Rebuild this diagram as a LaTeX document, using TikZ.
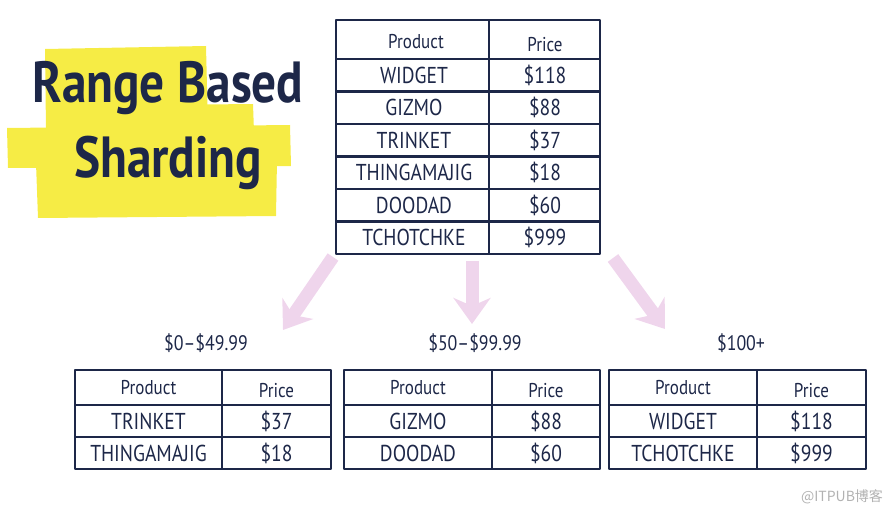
\documentclass[tikz,border=0pt]{standalone}
\usepackage{fontspec}
\setmainfont{PT Sans}[FakeStretch=0.85]
\newfontfamily\cjk{Noto Sans CJK SC}
\usetikzlibrary{arrows.meta}

\definecolor{ink}{HTML}{1D2748}
\definecolor{marker}{HTML}{F6EC45}
\definecolor{blush}{HTML}{EFD5EC}

\tikzset{
  tblline/.style={draw=ink, line width=2.6pt, line join=round},
  cell/.style={text=ink, font=\fontsize{23}{26}\selectfont, inner sep=0pt},
  hdr/.style={text=ink, font=\fontsize{20}{23}\selectfont, inner sep=0pt},
  rangelbl/.style={text=ink, font=\fontsize{21}{24}\selectfont, inner sep=0pt},
  titletxt/.style={text=ink, font=\fontsize{58}{62}\selectfont\bfseries, inner sep=0pt},
  shardarrow/.style={draw=blush, line width=13pt, -{Stealth[width=37pt,length=26pt,inset=8pt]}},
}

\begin{document}
\begin{tikzpicture}[x=1pt, y=-1pt]
  \useasboundingbox (0,0) rectangle (889,513);

  % highlighter behind the title
  \fill[marker] (45,49) -- (206,46) -- (208,128) -- (46,130) -- cycle;
  \fill[marker] (58,106) -- (253,104) -- (254,132) -- (60,133) -- cycle;
  \fill[marker] (7,128) -- (290,125) -- (291,166) -- (8,168) -- cycle;
  \fill[marker] (36,163) -- (277,160) -- (276,216) -- (38,218) -- cycle;
  \node[titletxt] (ttl1) at (168,88) {Range Based};
  \node[titletxt] (ttl2) at (168,163) {Sharding};

  % full table
  \draw[tblline] (336,20) rectangle (600,254);
  \draw[tblline] (489,20) -- (489,254);
  \foreach \y in {59,91.5,124,156.5,189,221.5}
    \draw[tblline] (336,\y) -- (600,\y);
  \node[hdr] (cathp) at (416,42) {Product};
  \node[hdr] (cathq) at (545,45) {Price};
  \foreach \item/\cost [count=\i] in {WIDGET/118,GIZMO/88,TRINKET/37,THINGAMAJIG/18,DOODAD/60,TCHOTCHKE/999}{
    \node[cell] (catp\i) at (414,{59+32.5*\i-16.25}) {\item};
    \node[cell] (catq\i) at (545,{59+32.5*\i-16.25}) {\$\cost};
  }

  % arrows down to the shards
  \coordinate (lowtail) at (333,257);
  \coordinate (lowtip) at (283,330);
  \coordinate (midtail) at (472,261);
  \coordinate (midtip) at (472,324);
  \coordinate (hightail) at (613,258);
  \coordinate (hightip) at (665,329);
  \draw[shardarrow] (lowtail) -- (lowtip);
  \draw[shardarrow] (midtail) -- (midtip);
  \draw[shardarrow] (hightail) -- (hightip);

  \node[rangelbl] (lowlbl) at (206,343) {\$0--\$49.99};
  \node[rangelbl] (midlbl) at (475,343) {\$50--\$99.99};
  \node[rangelbl] (highlbl) at (741,343) {\$100+};

  % the three shards
  \foreach \xa/\xm/\xb/\pa/\ca/\pb/\cb [count=\k] in
      {75/222/331/TRINKET/37/THINGAMAJIG/18,
       344/492/600/GIZMO/88/DOODAD/60,
       609/757/866/WIDGET/118/TCHOTCHKE/999}{
    \draw[tblline] (\xa,370) rectangle (\xb,469);
    \draw[tblline] (\xm,370) -- (\xm,469);
    \draw[tblline] (\xa,405) -- (\xb,405);
    \draw[tblline] (\xa,437) -- (\xb,437);
    \node[hdr] (sh\k hp) at ({(\xa+\xm)/2},388) {Product};
    \node[hdr] (sh\k hq) at ({(\xm+\xb)/2},391) {Price};
    \node[cell] (sh\k p1) at ({(\xa+\xm)/2},421) {\pa};
    \node[cell] (sh\k q1) at ({(\xm+\xb)/2},421) {\$\ca};
    \node[cell] (sh\k p2) at ({(\xa+\xm)/2},453) {\pb};
    \node[cell] (sh\k q2) at ({(\xm+\xb)/2},453) {\$\cb};
  }

  \node[text=black!30, font=\cjk\fontsize{14}{16}\selectfont, inner sep=0pt] (wm) at (842,497) {@ITPUB博客};
\end{tikzpicture}
\end{document}
